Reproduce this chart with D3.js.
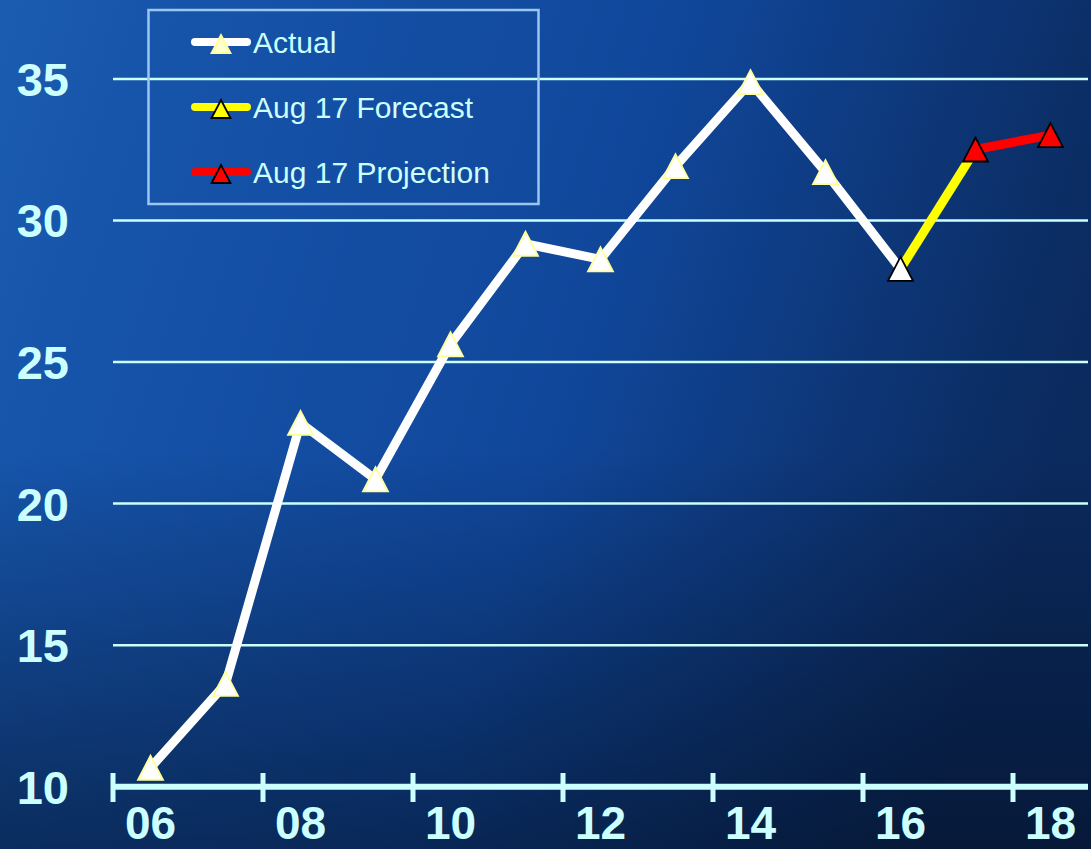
<!DOCTYPE html>
<html>
<head>
<meta charset="utf-8">
<script src="https://cdn.jsdelivr.net/npm/d3@7"></script>
<style>
  html, body { margin: 0; padding: 0; background: #0a2a60; }
  svg { display: block; }
  text { font-family: "Liberation Sans", Arial, sans-serif; }
</style>
</head>
<body>
<div id="chart"></div>
<script>
// Years on the category axis (two-digit labels)
const years = ["06", "07", "08", "09", "10", "11", "12", "13", "14", "15", "16", "17", "18"];
// Actual values, 06 through 16
const actualYears = ["06", "07", "08", "09", "10", "11", "12", "13", "14", "15", "16"];
const actualValues = [10.67, 13.63, 22.85, 20.86, 25.63, 29.18, 28.63, 31.92, 34.89, 31.71, 28.29];
// Aug 17 forecast segment, 16 to 17
const forecastYears = ["16", "17"];
const forecastValues = [28.29, 32.51];
// Aug 17 projection segment, 17 to 18
const projectionYears = ["17", "18"];
const projectionValues = [32.51, 33.02];
// Axis ticks
const yTicks = [10, 15, 20, 25, 30, 35];
const xLabelYears = ["06", "08", "10", "12", "14", "16", "18"];
// Legend entries
const legendLabels = ["Actual", "Aug 17 Forecast", "Aug 17 Projection"];

const W = 1091, H = 849;
const CYAN = "#ccffff";

const svg = d3.select("#chart").append("svg")
  .attr("width", W).attr("height", H);

// Background: diagonal blue gradient, darkened toward the bottom
const defs = svg.append("defs");
const grad = defs.append("linearGradient")
  .attr("id", "bg").attr("gradientUnits", "userSpaceOnUse")
  .attr("x1", 0).attr("y1", 0).attr("x2", W).attr("y2", 350);
[[0, "#1b5cb0"], [0.15, "#1654aa"], [0.57, "#10479b"], [0.91, "#0c2f68"], [1, "#0b2a5e"]]
  .forEach(([o, c]) => grad.append("stop").attr("offset", o).attr("stop-color", c));
const shade = defs.append("linearGradient")
  .attr("id", "shade").attr("gradientUnits", "userSpaceOnUse")
  .attr("x1", 0).attr("y1", 450).attr("x2", 0).attr("y2", H);
shade.append("stop").attr("offset", 0).attr("stop-color", "#000814").attr("stop-opacity", 0);
shade.append("stop").attr("offset", 1).attr("stop-color", "#000814").attr("stop-opacity", 0.5);
svg.append("rect").attr("width", W).attr("height", H).attr("fill", "url(#bg)");
svg.append("rect").attr("width", W).attr("height", H).attr("fill", "url(#shade)");

// Scales
const x = d3.scaleBand().domain(years).range([113, 1088]).padding(0);
const cx = d => x(d) + x.bandwidth() / 2;
const y = d3.scaleLinear().domain([10, 35]).range([786.7, 79]);

// Horizontal gridlines
svg.append("g").selectAll("line")
  .data(yTicks.filter(t => t > 10))
  .join("line")
  .attr("x1", 113).attr("x2", 1088)
  .attr("y1", d => y(d)).attr("y2", d => y(d))
  .attr("stroke", CYAN).attr("stroke-width", 2.5);

// Y tick labels
svg.append("g").selectAll("text")
  .data(yTicks)
  .join("text")
  .attr("x", 69).attr("y", d => y(d)).attr("dy", "0.36em")
  .attr("text-anchor", "end")
  .attr("font-size", 47).attr("font-weight", "bold")
  .attr("fill", CYAN)
  .text(d => d);

// X axis baseline, ticks and labels
const xAxis = svg.append("g");
xAxis.append("line")
  .attr("x1", 113).attr("x2", 1088)
  .attr("y1", y(10)).attr("y2", y(10))
  .attr("stroke", CYAN).attr("stroke-width", 6);
xAxis.selectAll("line.tick")
  .data(xLabelYears)
  .join("line").attr("class", "tick")
  .attr("x1", d => x(d)).attr("x2", d => x(d))
  .attr("y1", 773).attr("y2", 802)
  .attr("stroke", CYAN).attr("stroke-width", 5);
xAxis.selectAll("text")
  .data(xLabelYears)
  .join("text")
  .attr("x", d => cx(d)).attr("y", 839)
  .attr("text-anchor", "middle")
  .attr("font-size", 46).attr("font-weight", "bold")
  .attr("fill", CYAN)
  .text(d => d);

// Line series
const line = d3.line().x(d => cx(d[0])).y(d => y(d[1]));
const series = [
  { years: actualYears, values: actualValues, color: "#ffffff" },
  { years: forecastYears, values: forecastValues, color: "#ffff00" },
  { years: projectionYears, values: projectionValues, color: "#ff0000" }
];
svg.append("g").selectAll("path")
  .data(series)
  .join("path")
  .attr("d", s => line(d3.zip(s.years, s.values)))
  .attr("fill", "none")
  .attr("stroke", s => s.color)
  .attr("stroke-width", 9)
  .attr("stroke-linejoin", "miter");

// Triangle marker path centered on its bounding box
const tri = (w, h) => `M0,${-h / 2}L${w / 2},${h / 2}L${-w / 2},${h / 2}Z`;

const markers = [];
actualYears.slice(0, -1).forEach((yr, i) =>
  markers.push({ yr, v: actualValues[i], fill: "#ffffff", stroke: "#ffff99" }));
markers.push({ yr: forecastYears[0], v: forecastValues[0], fill: "#ffffff", stroke: "#000000" });
projectionYears.forEach((yr, i) =>
  markers.push({ yr, v: projectionValues[i], fill: "#ff0000", stroke: "#000000" }));

svg.append("g").selectAll("path")
  .data(markers)
  .join("path")
  .attr("transform", d => `translate(${cx(d.yr)},${y(d.v)})`)
  .attr("d", tri(25, 24))
  .attr("fill", d => d.fill)
  .attr("stroke", d => d.stroke)
  .attr("stroke-width", 1.8)
  .attr("stroke-linejoin", "miter");

// Legend
const legend = svg.append("g");
legend.append("rect")
  .attr("x", 148.5).attr("y", 10).attr("width", 390).attr("height", 194)
  .attr("fill", "none").attr("stroke", "#9cc6f2").attr("stroke-width", 2.5);
const legendStyles = [
  { line: "#ffffff", fill: "#ffffcc", stroke: "#ffff99" },
  { line: "#ffff00", fill: "#ffff00", stroke: "#000000" },
  { line: "#ff0000", fill: "#ff0000", stroke: "#000000" }
];
const legendRows = legend.selectAll("g")
  .data(legendLabels)
  .join("g")
  .attr("transform", (d, i) => `translate(0,${42 + i * 65})`);
legendRows.append("line")
  .attr("x1", 195).attr("x2", 247)
  .attr("stroke", (d, i) => legendStyles[i].line)
  .attr("stroke-width", 8).attr("stroke-linecap", "round");
legendRows.append("path")
  .attr("transform", "translate(221,2)")
  .attr("d", tri(19, 18))
  .attr("fill", (d, i) => legendStyles[i].fill)
  .attr("stroke", (d, i) => legendStyles[i].stroke)
  .attr("stroke-width", 1.8);
legendRows.append("text")
  .attr("x", 253).attr("dy", "0.36em")
  .attr("font-size", 30)
  .attr("fill", CYAN)
  .text(d => d);
</script>
</body>
</html>
